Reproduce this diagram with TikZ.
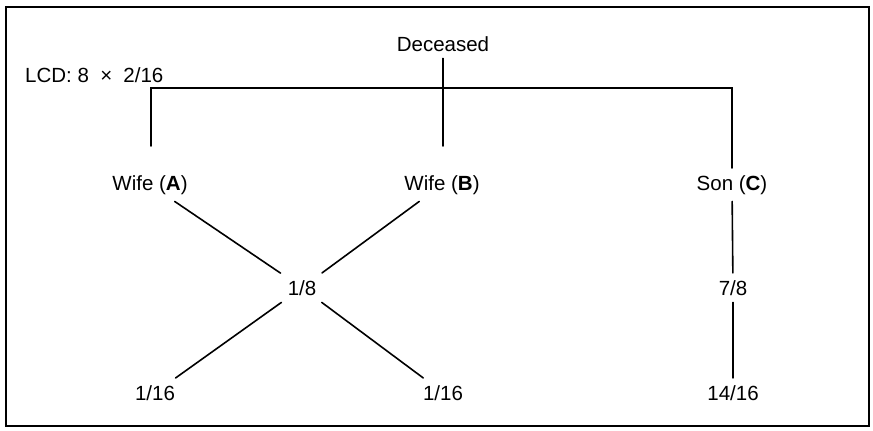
\documentclass[tikz,border=0pt]{standalone}
\usepackage{fontspec}
\setmainfont{Liberation Sans}
\begin{document}
\begin{tikzpicture}[x=1pt,y=-1pt,
  lbl/.style={font=\fontsize{20.5}{23}\selectfont, inner sep=7pt, anchor=base},
  conn/.style={line width=1.6pt, line cap=round},
  frame/.style={line width=1.8pt}]
\useasboundingbox (0,0) rectangle (873,431);
\draw[frame] (6,7) rectangle (869,426);

\node[lbl] (dec) at (443,51) {Deceased};
\node[lbl, anchor=base west, inner sep=0pt] (lcd) at (25,82) {LCD: 8\hspace{0.55em}×\hspace{0.55em}2/16};

\node[lbl] (wa) at (150,190) {Wife (\textbf{A})};
\node[lbl] (wb) at (442,190) {Wife (\textbf{B})};
\node[lbl] (sc) at (732,190) {Son (\textbf{C})};

\node[lbl] (h) at (302,295) {1/8};
\node[lbl] (s) at (733,295) {7/8};

\node[lbl] (qa) at (155,400) {1/16};
\node[lbl] (qb) at (443,400) {1/16};
\node[lbl] (f) at (733,400) {14/16};

\coordinate (bar) at (443,88);
\coordinate (ea) at (151,146);
\coordinate (eb) at (443,146);
\coordinate (ec) at (732,168);

% tree bar
\draw[conn] (dec.south) -- (eb);
\draw[conn] (ea) -- (ea |- bar) -- (ec |- bar) -- (ec);

% shares
\draw[conn] (wa) -- (h);
\draw[conn] (wb) -- (h);
\draw[conn] (h) -- (qa);
\draw[conn] (h) -- (qb);
\draw[conn] (sc) -- (s);
\draw[conn] (s) -- (f);
\end{tikzpicture}
\end{document}
